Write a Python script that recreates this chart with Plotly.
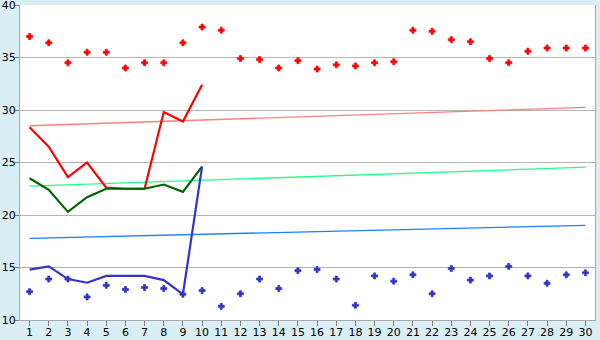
import plotly.graph_objects as go

days = list(range(1, 31))

red_points = [37.0, 36.4, 34.5, 35.5, 35.5, 34.0, 34.5, 34.5, 36.4, 37.9,
              37.6, 34.9, 34.8, 34.0, 34.7, 33.9, 34.3, 34.2, 34.5, 34.6,
              37.6, 37.5, 36.7, 36.5, 34.9, 34.5, 35.6, 35.9, 35.9, 35.9]
blue_points = [12.7, 13.9, 13.9, 12.2, 13.3, 12.9, 13.1, 13.0, 12.45, 12.8,
               11.3, 12.5, 13.9, 13.0, 14.7, 14.8, 13.9, 11.4, 14.2, 13.7,
               14.3, 12.5, 14.9, 13.8, 14.2, 15.1, 14.2, 13.5, 14.3, 14.5]

line_days = list(range(1, 11))
red_line = [28.35, 26.5, 23.6, 25.0, 22.6, 22.5, 22.5, 29.8, 28.9, 32.4]
green_line = [23.5, 22.4, 20.3, 21.7, 22.5, 22.5, 22.5, 22.9, 22.2, 24.6]
blue_line = [14.8, 15.1, 13.9, 13.55, 14.2, 14.2, 14.2, 13.8, 12.45, 24.6]

trend_days = [1, 30]
red_trend = [28.5, 30.25]
green_trend = [22.75, 24.55]
blue_trend = [17.78, 19.02]

y_ticks = [10, 15, 20, 25, 30, 35, 40]

fig = go.Figure()

for ys, col in [(red_trend, "#ff7f7f"), (green_trend, "#22ff88"), (blue_trend, "#1a80ff")]:
    fig.add_trace(go.Scatter(x=trend_days, y=ys, mode="lines",
                             line=dict(color=col, width=1.3), hoverinfo="skip"))

for ys, col in [(red_line, "#ff0000"), (green_line, "#006400"), (blue_line, "#3333cc")]:
    fig.add_trace(go.Scatter(x=line_days, y=ys, mode="lines",
                             line=dict(color=col, width=2.2)))

fig.add_trace(go.Scatter(x=days, y=red_points, mode="markers",
                         marker=dict(symbol="cross", size=5, color="#ff0000",
                                     line=dict(width=0.8, color="#ff0000"))))
fig.add_trace(go.Scatter(x=days, y=blue_points, mode="markers",
                         marker=dict(symbol="cross", size=5, color="#3333cc",
                                     line=dict(width=0.8, color="#3333cc"))))

fig.update_layout(
    width=600, height=340,
    margin=dict(l=20, r=5, t=5, b=20),
    paper_bgcolor="#d9eff5",
    plot_bgcolor="#ffffff",
    showlegend=False,
    font=dict(family="DejaVu Sans, Verdana, sans-serif", size=11, color="#000000"),
    xaxis=dict(range=[0.5, 30.5], tickvals=days, ticktext=[str(d) for d in days],
               showgrid=False, zeroline=False, showline=True, linecolor="#a8a8a8", linewidth=1,
               ticks="outside", ticklen=5, tickcolor="#808080", mirror=False,
               automargin=False, ticklabeloverflow="allow", ticklabelstandoff=-3),
    yaxis=dict(range=[10, 40], tickvals=y_ticks, ticktext=[str(v) for v in y_ticks],
               showgrid=True, gridcolor="#b4b4b4", gridwidth=1, zeroline=False,
               showline=True, linecolor="#a8a8a8", linewidth=1, mirror=True,
               ticks="outside", ticklen=4, tickcolor="#808080",
               automargin=False, ticklabeloverflow="allow", ticklabelstandoff=-3),
)

fig.write_html("out.html")
